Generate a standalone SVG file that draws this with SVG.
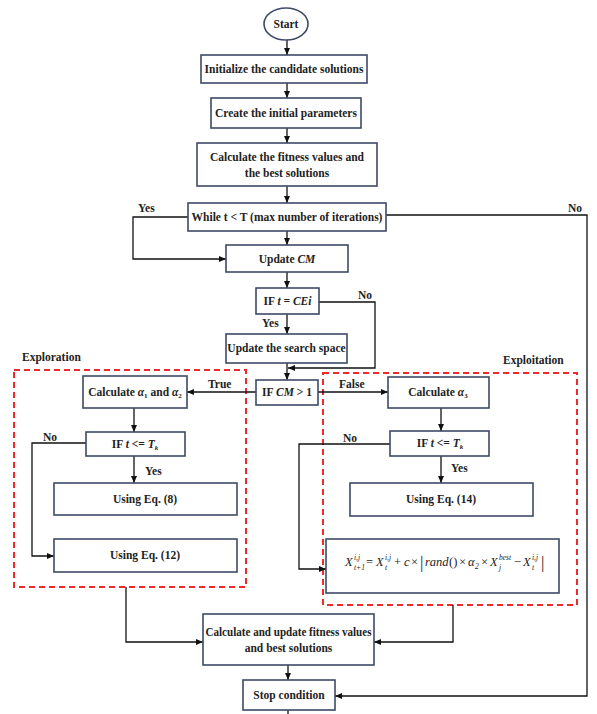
<svg xmlns="http://www.w3.org/2000/svg" width="597" height="714" viewBox="0 0 597 714">
<defs>
<marker id="ah" markerWidth="8" markerHeight="8" refX="7" refY="4" orient="auto" markerUnits="userSpaceOnUse">
<path d="M0,1 L7,4 L0,7 Z" fill="#111"/>
</marker>
<style>
.box{fill:#fff;stroke:#3d4a66;stroke-width:1.6}
.t{font-family:"Liberation Serif","Times New Roman",serif;font-size:11.5px;font-weight:bold;fill:#222;text-anchor:middle}
.l{font-family:"Liberation Serif","Times New Roman",serif;font-size:11.5px;font-weight:bold;fill:#222}
.i{font-style:italic}
.c{fill:none;stroke:#111;stroke-width:1.3}
.a{marker-end:url(#ah)}
.red{fill:none;stroke:#f02a2a;stroke-width:2;stroke-dasharray:6,4}
.m{font-family:"Liberation Serif","Times New Roman",serif;font-size:12.5px;font-style:italic;fill:#222}
.n{font-family:"Liberation Serif","Times New Roman",serif;font-size:12.5px;fill:#222}
.s{font-family:"Liberation Serif","Times New Roman",serif;font-size:7.5px;font-style:italic;fill:#222}
.bar{font-family:"Liberation Serif","Times New Roman",serif;font-size:17px;fill:#222}
</style>
</defs>
<rect width="597" height="714" fill="#fff"/>

<g id="regions">
<rect class="red" x="14" y="370" width="232" height="217"/>
<rect class="red" x="323" y="373" width="254" height="232"/>
<text class="l" x="22" y="361" font-size="12.5">Exploration</text>
<text class="l" x="503" y="364" font-size="12.5">Exploitation</text>
</g>

<g id="connectors">
<path class="c a" d="M287,40 V55"/>
<path class="c a" d="M287,83 V98"/>
<path class="c a" d="M287,128 V143"/>
<path class="c a" d="M287,186 V203"/>
<path class="c a" d="M287,231 V245"/>
<path class="c a" d="M188,217 H133 V259 H226"/>
<path class="c a" d="M386,215 H587 V696 H335"/>
<path class="c a" d="M287,272 V288"/>
<path class="c a" d="M287,314 V334"/>
<path class="c a" d="M319,302 H375 V368 H288"/>
<path class="c a" d="M287,363 V380"/>
<path class="c a" d="M256,392 H187"/>
<path class="c a" d="M318,392 H388"/>
<path class="c a" d="M134,408 V432"/>
<path class="c a" d="M134,456 V483"/>
<path class="c a" d="M86,443 H32 V556 H54"/>
<path class="c a" d="M441,408 V431"/>
<path class="c a" d="M441,456 V483"/>
<path class="c a" d="M390,444 H299 V569 H326"/>
<path class="c a" d="M126,587 V642 H203"/>
<path class="c a" d="M453,605 V642 H374"/>
<path class="c a" d="M288,665 V680"/>
<path class="c" d="M288,710 V714"/>
<text class="l" x="138" y="212">Yes</text>
<text class="l" x="568" y="212">No</text>
<text class="l" x="358" y="299">No</text>
<text class="l" x="262" y="327">Yes</text>
<text class="l" x="208" y="388">True</text>
<text class="l" x="339" y="388">False</text>
<text class="l" x="43" y="441">No</text>
<text class="l" x="145" y="475">Yes</text>
<text class="l" x="343" y="442">No</text>
<text class="l" x="451" y="472">Yes</text>
</g>

<g id="start"><ellipse cx="286" cy="24" rx="22" ry="16" fill="#fff" stroke="#3d4a66" stroke-width="1.6"/><text class="t" x="286" y="28">Start</text></g>
<g id="init"><rect class="box" x="201" y="55" width="166" height="28"/><text class="t" x="284" y="73">Initialize the candidate solutions</text></g>
<g id="params"><rect class="box" x="211" y="98" width="150" height="30"/><text class="t" x="286" y="117">Create the initial parameters</text></g>
<g id="fitness"><rect class="box" x="197" y="143" width="180" height="43"/><text class="t" x="287" y="161">Calculate the fitness values and</text><text class="t" x="287" y="177">the best solutions</text></g>
<g id="while"><rect class="box" x="188" y="203" width="198" height="28"/><text class="t" x="287" y="221">While t &lt; T (max number of iterations)</text></g>
<g id="updateCM"><rect class="box" x="226" y="245" width="122" height="27"/><text class="t" x="287" y="263">Update <tspan class="i">CM</tspan></text></g>
<g id="ifCEi"><rect class="box" x="256" y="288" width="63" height="26"/><text class="t" x="287.5" y="305">IF <tspan class="i">t = CEi</tspan></text></g>
<g id="updateSpace"><rect class="box" x="226" y="334" width="121" height="29"/><text class="t" x="286.5" y="352">Update the search space</text></g>
<g id="ifCM"><rect class="box" x="256" y="380" width="62" height="25"/><text class="t" x="287" y="396">IF <tspan class="i">CM</tspan> &gt; 1</text></g>
<g id="calcA12"><rect class="box" x="83" y="376" width="104" height="32"/><text class="t" x="135" y="396">Calculate <tspan class="i">α</tspan><tspan font-size="7" dy="2">1</tspan><tspan dy="-2"> and </tspan><tspan class="i">α</tspan><tspan font-size="7" dy="2">2</tspan></text></g>
<g id="ifTkL"><rect class="box" x="86" y="432" width="99" height="24"/><text class="t" x="135" y="448">IF <tspan class="i">t</tspan> &lt;= <tspan class="i">T</tspan><tspan class="i" font-size="7" dy="2">k</tspan></text></g>
<g id="eq8"><rect class="box" x="54" y="483" width="183" height="32"/><text class="t" x="145" y="503">Using Eq. (8)</text></g>
<g id="eq12"><rect class="box" x="54" y="539" width="183" height="33"/><text class="t" x="145" y="559">Using Eq. (12)</text></g>
<g id="calcA3"><rect class="box" x="388" y="377" width="101" height="31"/><text class="t" x="438" y="396">Calculate <tspan class="i">α</tspan><tspan font-size="7" dy="2">3</tspan></text></g>
<g id="ifTkR"><rect class="box" x="390" y="431" width="99" height="25"/><text class="t" x="440" y="447">IF <tspan class="i">t</tspan> &lt;= <tspan class="i">T</tspan><tspan class="i" font-size="7" dy="2">k</tspan></text></g>
<g id="eq14"><rect class="box" x="350" y="483" width="183" height="33"/><text class="t" x="441" y="503">Using Eq. (14)</text></g>
<g id="formula"><rect class="box" x="326" y="539" width="233" height="54"/>
<text class="m" x="345" y="566">X</text>
<text class="s" x="354" y="560">i,j</text>
<text class="s" x="354" y="570">t+1</text>
<text class="n" x="366" y="566">=</text>
<text class="m" x="376" y="566">X</text>
<text class="s" x="385" y="560">i,j</text>
<text class="s" x="385" y="570">t</text>
<text class="n" x="394" y="566">+</text>
<text class="m" x="404" y="566">c</text>
<text class="n" x="411" y="566">×</text>
<text class="bar" x="420" y="568">|</text>
<text class="m" x="425" y="566">rand</text>
<text class="n" x="449" y="566">()</text>
<text class="n" x="459" y="566">×</text>
<text class="m" x="468" y="566">α</text>
<text class="s" x="475" y="569" font-style="normal">2</text>
<text class="n" x="481" y="566">×</text>
<text class="m" x="490" y="566">X</text>
<text class="s" x="499" y="560">best</text>
<text class="s" x="499" y="570">j</text>
<text class="n" x="514" y="566">−</text>
<text class="m" x="523" y="566">X</text>
<text class="s" x="532" y="560">i,j</text>
<text class="s" x="532" y="570">t</text>
<text class="bar" x="541" y="568">|</text>
</g>
<g id="update"><rect class="box" x="203" y="614" width="171" height="51"/><text class="t" x="288.5" y="636" textLength="166" lengthAdjust="spacingAndGlyphs">Calculate and update fitness values</text><text class="t" x="288.5" y="652">and best solutions</text></g>
<g id="stop"><rect class="box" x="243" y="680" width="92" height="30"/><text class="t" x="289" y="699">Stop condition</text></g>
</svg>
